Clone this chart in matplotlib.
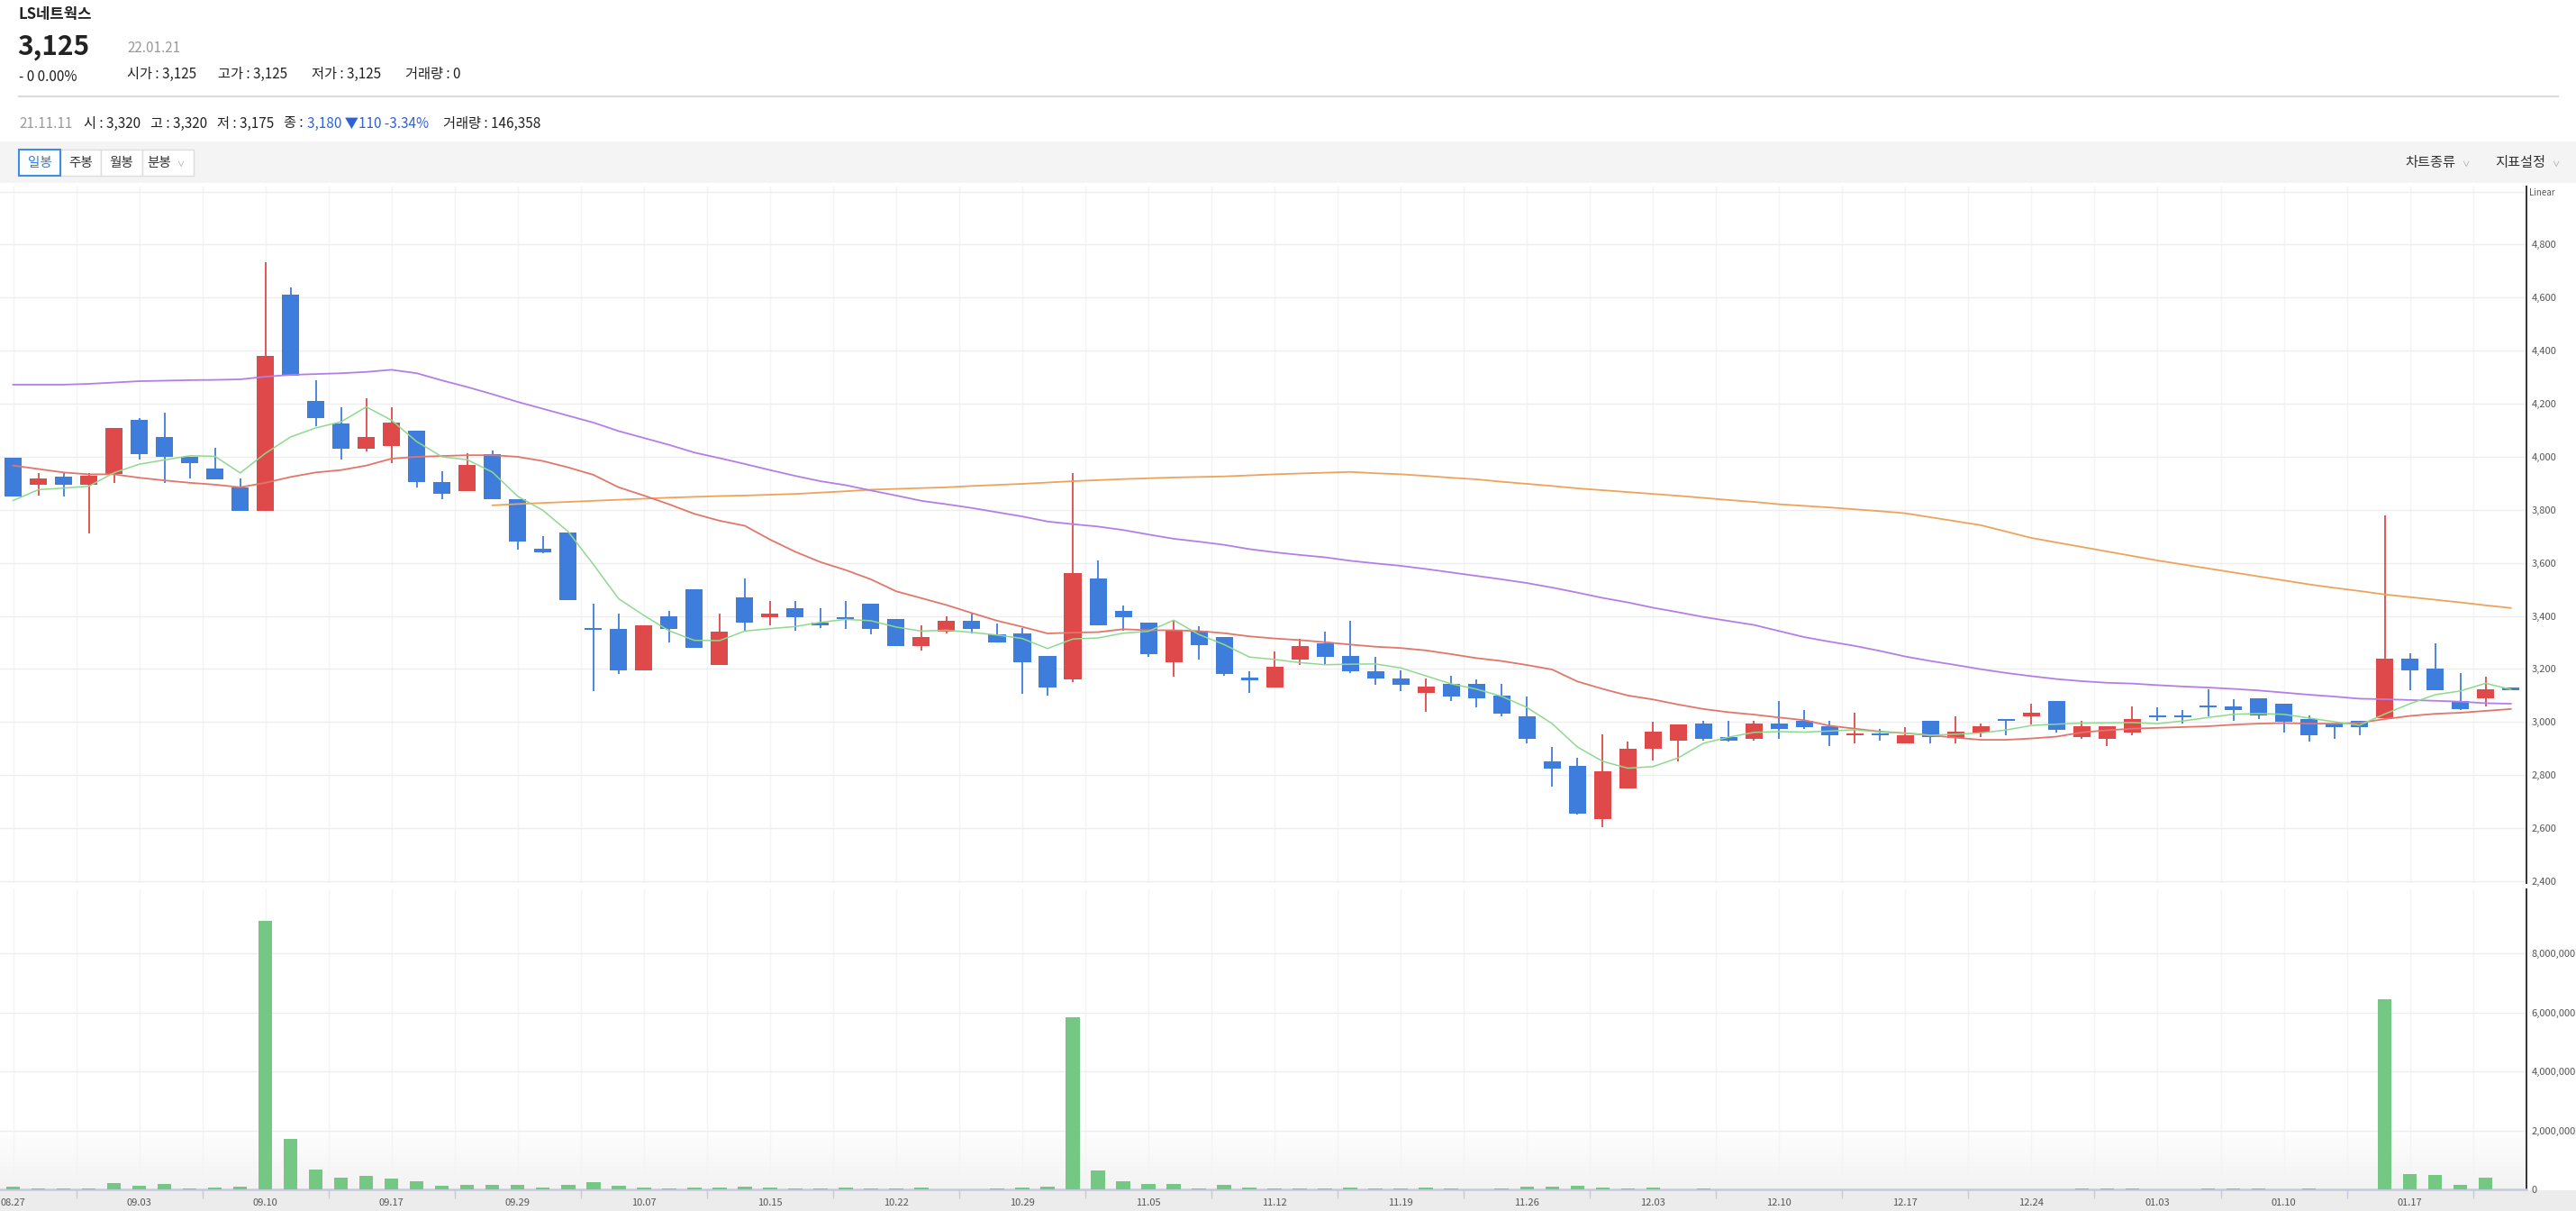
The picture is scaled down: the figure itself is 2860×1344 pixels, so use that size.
import matplotlib
matplotlib.use("Agg")
import matplotlib.pyplot as plt
from matplotlib.patches import Rectangle
from matplotlib.lines import Line2D
from matplotlib.colors import LinearSegmentedColormap
import numpy as np

plt.rcParams['font.family'] = ['Noto Sans CJK KR', 'DejaVu Sans']

# ---------------- data ----------------
date_labels = ["08.27", "09.03", "09.10", "09.17", "09.29", "10.07", "10.15", "10.22",
               "10.29", "11.05", "11.12", "11.19", "11.26", "12.03", "12.10", "12.17",
               "12.24", "01.03", "01.10", "01.17"]

opens = [3995, 3895, 3925, 3895, 3935, 4140, 4075, 4000, 3955, 3885,
         3795, 4610, 4210, 4125, 4030, 4040, 4100, 3905, 3870, 4010,
         3840, 3655, 3715, 3355, 3350, 3195, 3400, 3500, 3215, 3470,
         3395, 3430, 3375, 3395, 3445, 3390, 3285, 3340, 3380, 3330,
         3335, 3250, 3160, 3540, 3420, 3375, 3225, 3345, 3320, 3165,
         3130, 3235, 3295, 3250, 3190, 3165, 3110, 3145, 3145, 3100,
         3020, 2850, 2835, 2635, 2750, 2900, 2930, 2995, 2945, 2935,
         2995, 3005, 2985, 2950, 2955, 2920, 3005, 2940, 2960, 3010,
         3020, 3080, 2945, 2935, 2960, 3025, 3025, 3060, 3060, 3090,
         3070, 3010, 2995, 3005, 3015, 3240, 3200, 3080, 3090, 3125]
highs = [3995, 3940, 3940, 3940, 4110, 4145, 4165, 4000, 4035, 3920,
         4735, 4640, 4290, 4185, 4220, 4185, 4100, 3945, 4015, 4025,
         3840, 3700, 3715, 3445, 3410, 3365, 3420, 3500, 3410, 3540,
         3455, 3455, 3430, 3455, 3445, 3390, 3365, 3400, 3410, 3370,
         3355, 3250, 3940, 3610, 3440, 3375, 3385, 3360, 3320, 3190,
         3265, 3315, 3340, 3380, 3245, 3195, 3165, 3175, 3160, 3145,
         3095, 2905, 2865, 2955, 2925, 3000, 2990, 3005, 3005, 3005,
         3080, 3045, 3005, 3035, 2975, 2980, 3005, 3020, 2995, 3010,
         3070, 3080, 3005, 2985, 3060, 3055, 3045, 3125, 3085, 3090,
         3070, 3025, 2995, 3005, 3780, 3260, 3295, 3185, 3170, 3125]
lows = [3850, 3855, 3850, 3710, 3900, 3990, 3900, 3920, 3915, 3795,
        3795, 4305, 4115, 3990, 4020, 3975, 3885, 3840, 3870, 3840,
        3650, 3635, 3460, 3115, 3180, 3195, 3300, 3280, 3215, 3345,
        3365, 3345, 3355, 3350, 3330, 3285, 3270, 3335, 3335, 3300,
        3105, 3100, 3150, 3365, 3345, 3245, 3170, 3235, 3175, 3110,
        3130, 3215, 3215, 3185, 3140, 3115, 3040, 3080, 3055, 3020,
        2920, 2755, 2650, 2605, 2750, 2855, 2850, 2930, 2925, 2930,
        2935, 2975, 2910, 2920, 2930, 2920, 2920, 2920, 2945, 2950,
        2990, 2960, 2935, 2910, 2950, 3005, 2995, 3020, 3005, 3010,
        2960, 2925, 2935, 2950, 3010, 3120, 3120, 3045, 3060, 3125]
closes = [3850, 3920, 3895, 3930, 4110, 4010, 4000, 3975, 3915, 3795,
          4380, 4305, 4145, 4030, 4075, 4130, 3905, 3860, 3970, 3840,
          3680, 3640, 3460, 3350, 3195, 3365, 3350, 3280, 3340, 3375,
          3410, 3395, 3365, 3390, 3350, 3285, 3320, 3380, 3350, 3300,
          3225, 3130, 3560, 3365, 3395, 3255, 3345, 3290, 3180, 3160,
          3210, 3285, 3245, 3190, 3165, 3140, 3135, 3095, 3090, 3030,
          2935, 2825, 2655, 2815, 2900, 2965, 2990, 2935, 2930, 2995,
          2975, 2980, 2950, 2955, 2950, 2950, 2945, 2965, 2985, 3005,
          3035, 2970, 2985, 2985, 3010, 3020, 3020, 3055, 3045, 3025,
          3000, 2950, 2980, 2980, 3240, 3195, 3120, 3050, 3125, 3125]
volumes = [90000, 30000, 30000, 30000, 210000, 120000, 180000, 30000, 60000, 90000,
           9090000, 1720000, 660000, 390000, 450000, 360000, 270000, 120000, 150000, 150000,
           150000, 60000, 150000, 240000, 120000, 60000, 30000, 60000, 60000, 90000,
           60000, 30000, 30000, 60000, 30000, 30000, 60000, 5000, 5000, 30000,
           60000, 90000, 5840000, 630000, 270000, 180000, 180000, 30000, 146358, 60000,
           30000, 30000, 30000, 60000, 30000, 30000, 60000, 30000, 5000, 30000,
           90000, 90000, 120000, 60000, 30000, 60000, 5000, 30000, 5000, 5000,
           5000, 5000, 5000, 5000, 5000, 5000, 5000, 5000, 5000, 5000,
           5000, 5000, 30000, 30000, 30000, 5000, 5000, 30000, 30000, 30000,
           5000, 30000, 5000, 5000, 6440000, 510000, 480000, 150000, 390000, 0]

ma5 = [3835, 3876, 3882, 3889, 3940, 3972, 3988, 4004, 4002, 3939,
       4013, 4075, 4109, 4132, 4188, 4138, 4057, 4000, 3989, 3942,
       3851, 3798, 3718, 3594, 3465, 3402, 3344, 3308, 3307, 3343,
       3352, 3360, 3376, 3387, 3382, 3358, 3343, 3346, 3338, 3328,
       3315, 3277, 3313, 3317, 3335, 3342, 3384, 3330, 3292, 3245,
       3236, 3224, 3216, 3218, 3219, 3204, 3174, 3144, 3124, 3097,
       3055, 2994, 2906, 2852, 2826, 2832, 2865, 2920, 2943, 2961,
       2964, 2962, 2966, 2971, 2962, 2958, 2950, 2954, 2959, 2970,
       2987, 2992, 2996, 2997, 2998, 2994, 3004, 3017, 3029, 3032,
       3029, 3015, 3001, 2988, 3030, 3069, 3103, 3117, 3146, 3123]
ma20 = [3967, 3954, 3941, 3934, 3934, 3921, 3911, 3902, 3895, 3885,
        3902, 3924, 3941, 3950, 3967, 3993, 4000, 4003, 4006, 4006,
        4000, 3984, 3960, 3932, 3885, 3854, 3821, 3785, 3759, 3740,
        3688, 3642, 3603, 3573, 3538, 3493, 3467, 3441, 3411, 3382,
        3359, 3334, 3337, 3339, 3350, 3346, 3346, 3343, 3335, 3323,
        3315, 3309, 3301, 3292, 3284, 3279, 3270, 3256, 3241, 3230,
        3215, 3198, 3153, 3125, 3100, 3085, 3066, 3049, 3037, 3028,
        3017, 3007, 2986, 2975, 2964, 2958, 2950, 2941, 2933, 2933,
        2938, 2945, 2961, 2969, 2975, 2978, 2981, 2984, 2990, 2994,
        2996, 2994, 2994, 2997, 3011, 3023, 3031, 3035, 3042, 3049]
ma60 = [4272, 4272, 4272, 4275, 4280, 4285, 4287, 4289, 4290, 4292,
        4302, 4309, 4312, 4315, 4320, 4328, 4315, 4288, 4263, 4236,
        4207, 4181, 4155, 4129, 4097, 4071, 4045, 4016, 3995, 3973,
        3950, 3928, 3908, 3893, 3873, 3854, 3834, 3821, 3807, 3791,
        3775, 3756, 3746, 3737, 3724, 3707, 3691, 3680, 3668, 3652,
        3640, 3630, 3621, 3608, 3598, 3589, 3577, 3564, 3551, 3538,
        3524, 3507, 3488, 3468, 3451, 3431, 3414, 3396, 3381, 3366,
        3343, 3320, 3303, 3287, 3268, 3247, 3230, 3215, 3199, 3185,
        3173, 3162, 3154, 3148, 3145, 3139, 3134, 3130, 3125, 3119,
        3111, 3103, 3096, 3088, 3086, 3083, 3080, 3077, 3071, 3069]
ma120_start = 19
ma120 = [3817, 3822, 3826, 3830, 3834, 3838, 3842, 3846, 3849, 3852,
         3854, 3857, 3860, 3865, 3870, 3876, 3879, 3882, 3885, 3890,
         3894, 3898, 3903, 3908, 3912, 3916, 3919, 3922, 3924, 3926,
         3930, 3934, 3937, 3940, 3943, 3938, 3934, 3928, 3921, 3915,
         3906, 3898, 3890, 3881, 3874, 3867, 3860, 3853, 3845, 3837,
         3830, 3821, 3815, 3809, 3802, 3795, 3787, 3772, 3757, 3742,
         3718, 3694, 3677, 3660, 3643, 3626, 3609, 3594, 3579, 3564,
         3549, 3534, 3519, 3506, 3494, 3481, 3471, 3461, 3451, 3440, 3430]

price_ticks = [2400, 2600, 2800, 3000, 3200, 3400, 3600, 3800, 4000, 4200, 4400, 4600, 4800]
volume_ticks = [0, 2000000, 4000000, 6000000, 8000000]

# ---------------- style ----------------
RED = '#e04949'
BLUE = '#3f7ddc'
VOLC = '#74c884'
C_MA5 = '#8fd98f'
C_MA20 = '#e2766a'
C_MA60 = '#b47ee8'
C_MA120 = '#eea35b'
GRID = '#eeeeee'
VGRID = '#f4f4f4'

W, H = 2860, 1344
DPI = 100
fig = plt.figure(figsize=(W / DPI, H / DPI), dpi=DPI)
fig.patch.set_facecolor('white')


def fx(px):
    return px / W


def fy(py):
    return 1 - py / H


def ftext(x, y, s, **kw):
    kw.setdefault('va', 'center')
    kw.setdefault('ha', 'left')
    kw.setdefault('color', '#222222')
    return fig.text(fx(x), fy(y), s, **kw)


# ---------------- header ----------------
ftext(21, 15.5, "LS네트웍스", fontsize=12, fontweight='bold')
ftext(19, 52, "3,125", fontsize=21.5, fontweight='bold')
ftext(141, 54, "22.01.21", fontsize=11, color='#9a9a9a')
ftext(21, 86, "- 0 0.00%", fontsize=11)
ftext(141, 82, "시가 : 3,125", fontsize=11)
ftext(242, 82, "고가 : 3,125", fontsize=11)
ftext(346, 82, "저가 : 3,125", fontsize=11)
ftext(450, 82, "거래량 : 0", fontsize=11)

fig.add_artist(Line2D([fx(21), fx(2840)], [fy(107), fy(107)], color='#dcdcdc', lw=1.6))

ftext(21, 137, "21.11.11", fontsize=11, color='#9a9a9a')
ftext(93, 137, "시 : 3,320", fontsize=11)
ftext(167, 137, "고 : 3,320", fontsize=11)
ftext(241, 137, "저 : 3,175", fontsize=11)
ftext(315, 137, "종 :", fontsize=11)
ftext(341, 137, "3,180 ▼110 -3.34%", fontsize=11, color='#2d62d6')
ftext(492, 137, "거래량 : 146,358", fontsize=11)

# toolbar
fig.add_artist(Rectangle((0, fy(203)), 1, (203 - 157) / H, transform=fig.transFigure,
                         facecolor='#f4f4f4', edgecolor='none', zorder=-2))
buttons = [("일봉", 21, 67, True), ("주봉", 67, 112, False), ("월봉", 112, 158, False),
           ("분봉", 158, 215, False)]
for label, x0, x1, sel in buttons:
    fig.add_artist(Rectangle((fx(x0), fy(195)), (x1 - x0) / W, (195 - 166) / H,
                             transform=fig.transFigure, facecolor='white',
                             edgecolor='#3b8de8' if sel else '#dddddd',
                             lw=1.5 if sel else 1.0, zorder=2 if sel else 1))
    if label == "분봉":
        ftext(163, 180.5, label, fontsize=10.5, color='#333333')
        ftext(196, 182, "∨", fontsize=6, color='#999999')
    else:
        ftext((x0 + x1) / 2, 180.5, label, fontsize=10.5, ha='center',
              color='#2c7be5' if sel else '#333333')
ftext(2670, 180, "차트종류", fontsize=11, color='#333333')
ftext(2733, 182, "∨", fontsize=6, color='#999999')
ftext(2770, 180, "지표설정", fontsize=11, color='#333333')
ftext(2833, 182, "∨", fontsize=6, color='#999999')

# ---------------- axes ----------------
XL = (-0.52, 99.62)
ax = fig.add_axes([0, fy(980), fx(2805), (980 - 207) / H])
axv = fig.add_axes([0, fy(1320), fx(2805), (1320 - 987) / H])

x = np.arange(len(opens))
o = np.array(opens, float)
c = np.array(closes, float)
hi = np.array(highs, float)
lo = np.array(lows, float)
up = c > o
colors = np.where(up, RED, BLUE)

for a in (ax, axv):
    a.set_facecolor('white')
    for v in np.arange(0, 100, 2.5):
        a.axvline(v, color=VGRID, lw=1.0, zorder=0.5)
    for s in ('top', 'left'):
        a.spines[s].set_visible(False)
    a.spines['right'].set_color('#333333')
    a.spines['right'].set_linewidth(1.4)
    a.yaxis.tick_right()
    a.tick_params(axis='y', length=0, pad=4, labelsize=8, labelcolor='#555555')

# price pane
for p in price_ticks + [5000]:
    ax.axhline(p, color=GRID, lw=1.0, zorder=0.5)
ax.vlines(x, lo, hi, colors=colors, lw=1.3, zorder=2)
body_lo = np.minimum(o, c)
body_h = np.abs(c - o)
min_h = 7.0
adj = np.where(body_h < min_h, (min_h - body_h) / 2, 0)
ax.bar(x, np.maximum(body_h, min_h), bottom=body_lo - adj, width=0.68,
       color=colors, linewidth=0, zorder=3)
ax.plot(np.arange(ma120_start, ma120_start + len(ma120)), ma120, color=C_MA120, lw=1.3, zorder=4)
ax.plot(x, ma60, color=C_MA60, lw=1.3, zorder=4)
ax.plot(x, ma20, color=C_MA20, lw=1.3, zorder=4)
ax.plot(x, ma5, color=C_MA5, lw=1.1, zorder=5)
ax.set_xlim(*XL)
ax.set_ylim(2393, 5019)
ax.set_yticks(price_ticks)
ax.set_yticklabels([f"{p:,}" for p in price_ticks])
ax.spines['bottom'].set_visible(False)
ax.set_xticks([])
ftext(2808, 214, "Linear", fontsize=7, color='#555555')

# volume pane
cmap = LinearSegmentedColormap.from_list('g', ['#ffffff', '#f3f3f3'])
grad = np.linspace(1, 0, 64).reshape(-1, 1)
axv.imshow(grad, extent=(XL[0], XL[1], 0, 2.2e6), origin='lower', aspect='auto',
           cmap=cmap, vmin=0, vmax=1, zorder=0)
for v in volume_ticks[1:]:
    axv.axhline(v, color=GRID, lw=1.0, zorder=0.5)
axv.bar(x, volumes, width=0.55, color=VOLC, linewidth=0, zorder=3)
axv.set_xlim(*XL)
axv.set_ylim(0, 10.17e6)
axv.set_yticks(volume_ticks)
axv.set_yticklabels([f"{v:,}" for v in volume_ticks])
axv.spines['bottom'].set_color('#c4c9de')
axv.spines['bottom'].set_linewidth(1.8)
axv.set_xticks(np.arange(0, 100, 5))
axv.set_xticklabels(date_labels)
axv.set_xticks(np.arange(2.5, 100, 5), minor=True)
axv.tick_params(axis='x', which='major', length=0, pad=7, labelsize=8, labelcolor='#555555')
axv.tick_params(axis='x', which='minor', length=7, width=1.0, color='#c4c9de')

# bottom date strip
fig.add_artist(Rectangle((0, 0), 1, (1344 - 1321) / H, transform=fig.transFigure,
                         facecolor='#ececec', edgecolor='none', zorder=-2))

fig.savefig("out.png", dpi=DPI, facecolor='white')
